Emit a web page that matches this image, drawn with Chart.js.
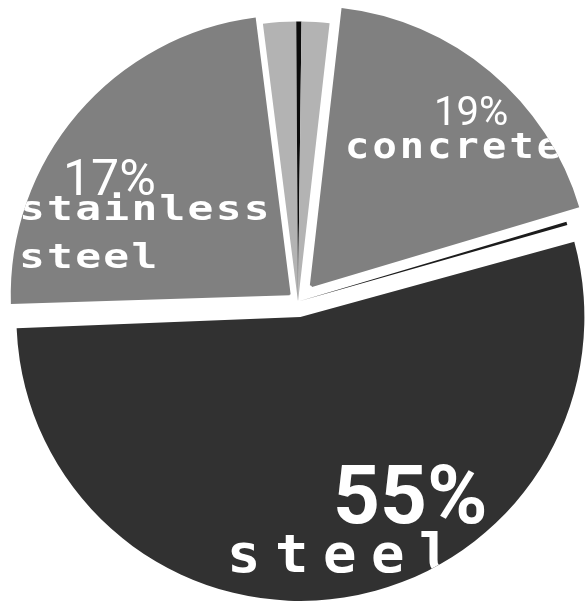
<!DOCTYPE html>
<html>
<head>
<meta charset="utf-8">
<script src="https://cdn.jsdelivr.net/npm/chart.js@4.4.1/dist/chart.umd.min.js"></script>
<style>
html,body{margin:0;padding:0;background:#ffffff;}
#wrap{width:585px;height:603px;}
</style>
</head>
<body>
<div id="wrap"><canvas id="c" width="585" height="603"></canvas></div>
<script>
// ---- data (clockwise from the top) ----
const categories = ['other (a)', 'other (b)', 'other (c)', 'concrete', 'other (d)', 'steel', 'stainless steel'];
const shares = [1.9, 0.3, 1.6, 18.6, 0.2, 53.9, 23.5];            // share of the circle, %
const percentLabels = ['', '', '', '19%', '', '55%', '17%'];        // printed percentages
const nameLabels = [[], [], [], ['concrete'], [], ['steel'], ['stainless', 'steel']];

// ---- styles ----
const fillColors = ['#b3b3b3', '#0c0c0c', '#b3b3b3', '#808080', '#1c1c1c', '#313131', '#808080'];
const explodePx = [0, 0, 0, 18, 0, 15.6, 9.5];   // how far each slice is pulled out
const ringOf = [0, 0, 0, 0, 0, 1, 0];            // dataset that paints each slice
const START_DEG = -7.2;
const R_MAIN = 280, R_STEEL = 268.4, EPS = 0.004;

const CLEAR = 'rgba(0,0,0,0)';
function ringDataset(k, radius, weight) {
  return {
    label: k === 0 ? 'materials' : 'materials (steel)',
    data: shares,
    backgroundColor: fillColors.map((c, i) => ringOf[i] === k ? c : CLEAR),
    offset: explodePx.map((p, i) => ringOf[i] === k ? 4 * p : 0),
    borderWidth: 0,
    hoverOffset: 0,
    weight: weight,
    radius: radius
  };
}

// label placement (text only)
const MONO = '"DejaVu Sans Mono"';
const textStyle = {
  pct:  {3: {font: '400 40px Roboto', x: 434, y: 125},
         5: {font: 'bold 82px Roboto', x: 333, y: 523},
         6: {font: '400 50px Roboto', x: 63, y: 195}},
  name: {3: {font: 'bold 36px ' + MONO, sx: 1.12, adv: 27.4, x: 345, y: [158]},
         5: {font: 'bold 53px ' + MONO, sx: 1.05, adv: 48, x: 227, y: [572]},
         6: {font: 'bold 33px ' + MONO, sx: 1.3, adv: 28.1, x: 19, y: [220, 268]}}
};

const labelPlugin = {
  id: 'sliceLabels',
  afterDatasetsDraw(chart) {
    const ctx = chart.ctx;
    shares.forEach((v, i) => {
      const pct = textStyle.pct[i], nm = textStyle.name[i];
      if (!pct && !nm) return;
      const meta = chart.getDatasetMeta(ringOf[i]);
      const el = meta.data[i];
      const p = el.getProps(['x', 'y', 'startAngle', 'endAngle', 'outerRadius'], true);
      const off = (el.options.offset || 0) / 4;
      const mid = (p.startAngle + p.endAngle) / 2;
      const circ = p.endAngle - p.startAngle;
      const fix = 1 - Math.sin(Math.min(Math.PI, circ));
      const cx = p.x + Math.cos(mid) * off, cy = p.y + Math.sin(mid) * off;
      const r = p.outerRadius + off * fix;
      ctx.save();
      ctx.beginPath();
      ctx.moveTo(cx, cy);
      ctx.arc(cx, cy, r, p.startAngle, p.endAngle);
      ctx.closePath();
      ctx.clip();
      ctx.fillStyle = '#ffffff';
      ctx.textBaseline = 'alphabetic';
      ctx.textAlign = 'left';
      if (pct && percentLabels[i]) {
        ctx.font = pct.font;
        ctx.fillText(percentLabels[i], pct.x, pct.y);
      }
      if (nm) {
        ctx.font = nm.font;
        nameLabels[i].forEach((line, li) => {
          [...line].forEach((ch, k) => {
            ctx.save();
            ctx.translate(nm.x + k * nm.adv, nm.y[li]);
            ctx.scale(nm.sx, 1);
            ctx.fillText(ch, 0, 0);
            ctx.restore();
          });
        });
      }
      ctx.restore();
    });
  }
};

new Chart(document.getElementById('c'), {
  type: 'pie',
  data: {
    labels: categories,
    datasets: [
      ringDataset(0, R_MAIN, 1),
      ringDataset(1, R_STEEL * (1 + EPS) / EPS, EPS)
    ]
  },
  options: {
    responsive: false,
    animation: false,
    events: [],
    rotation: START_DEG,
    layout: {padding: {left: 11, right: 0, top: 0, bottom: 0}},
    plugins: {legend: {display: false}, tooltip: {enabled: false}}
  },
  plugins: [labelPlugin]
});
</script>
</body>
</html>
